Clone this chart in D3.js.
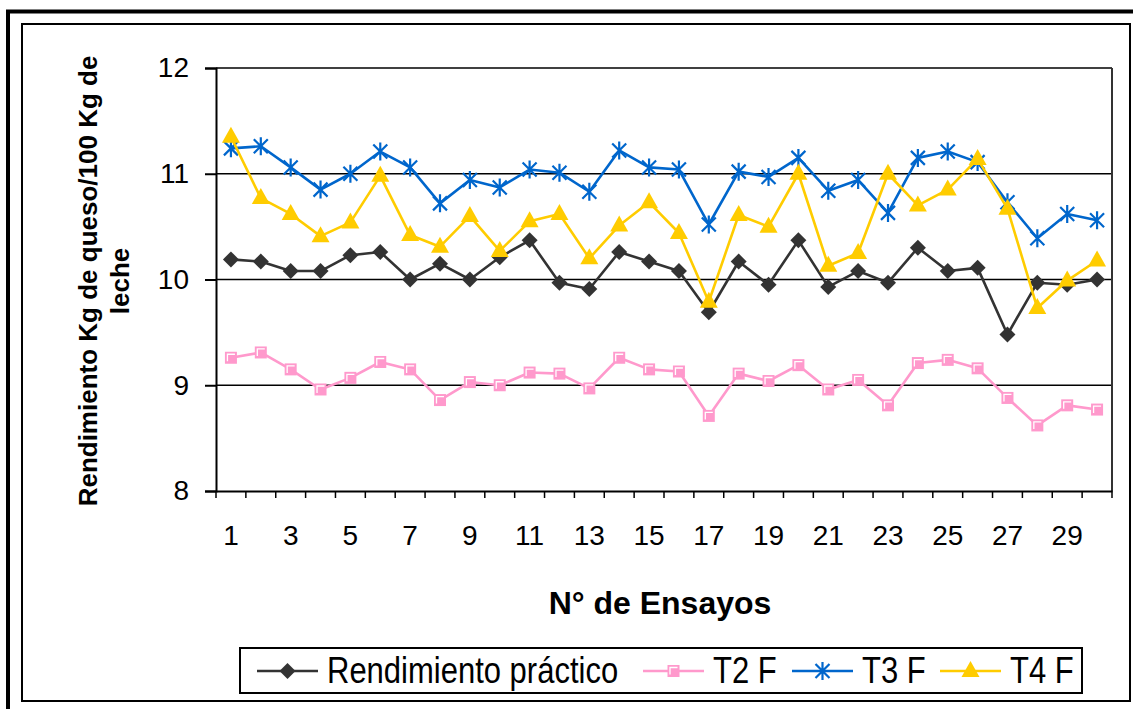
<!DOCTYPE html>
<html>
<head>
<meta charset="utf-8">
<script src="https://cdn.jsdelivr.net/npm/d3@7"></script>
<style>
  html, body { margin: 0; padding: 0; background: #fff; }
  svg { display: block; font-family: Arial, "Liberation Sans", sans-serif; }
</style>
</head>
<body>
<svg id="chart" width="1133" height="709"></svg>
<script>
// Trial numbers (categories) and yields per series
const ensayos = d3.range(1, 31);
const rendimientoPractico = [10.19, 10.17, 10.08, 10.08, 10.23, 10.26, 10.00, 10.15, 10.00, 10.21,
                             10.37, 9.97, 9.91, 10.26, 10.17, 10.08, 9.69, 10.17, 9.95, 10.37,
                             9.93, 10.08, 9.97, 10.30, 10.08, 10.11, 9.48, 9.97, 9.95, 10.00];
const t2F = [9.26, 9.31, 9.15, 8.96, 9.07, 9.22, 9.15, 8.86, 9.03, 9.00,
             9.12, 9.11, 8.97, 9.26, 9.15, 9.13, 8.71, 9.11, 9.04, 9.19,
             8.96, 9.05, 8.81, 9.21, 9.24, 9.16, 8.88, 8.62, 8.81, 8.77];
const t3F = [11.24, 11.26, 11.06, 10.85, 11.00, 11.21, 11.06, 10.72, 10.94, 10.87,
             11.04, 11.01, 10.83, 11.22, 11.06, 11.04, 10.52, 11.02, 10.97, 11.15,
             10.84, 10.94, 10.63, 11.15, 11.21, 11.11, 10.73, 10.39, 10.62, 10.56];
const t4F = [11.35, 10.77, 10.62, 10.41, 10.54, 10.98, 10.42, 10.31, 10.60, 10.27,
             10.55, 10.62, 10.20, 10.51, 10.73, 10.44, 9.79, 10.61, 10.50, 11.00,
             10.13, 10.25, 11.00, 10.70, 10.85, 11.14, 10.67, 9.73, 9.99, 10.18];
const yTicks = [8, 9, 10, 11, 12];
const xTickLabels = [1, 3, 5, 7, 9, 11, 13, 15, 17, 19, 21, 23, 25, 27, 29];

const seriesNames = ["Rendimiento práctico", "T2 F", "T3 F", "T4 F"];
const seriesColors = ["#333333", "#FF99CC", "#0066CC", "#FFCC00"];
const seriesValues = [rendimientoPractico, t2F, t3F, t4F];
const seriesMarkers = ["diamond", "square", "star", "triangle"];

const svg = d3.select("#chart");

// Double frame around the figure
svg.append("rect").attr("x", 8).attr("y", 11.5).attr("width", 1140).attr("height", 720)
  .attr("fill", "none").attr("stroke", "#000").attr("stroke-width", 4);
svg.append("rect").attr("x", 22).attr("y", 24).attr("width", 1108).attr("height", 677)
  .attr("fill", "none").attr("stroke", "#000").attr("stroke-width", 2);

const plot = { left: 216, right: 1112, top: 68, bottom: 491 };

const x = d3.scaleBand().domain(ensayos).range([plot.left, plot.right]);
const xc = d => x(d) + x.bandwidth() / 2;
const y = d3.scaleLinear().domain([8, 12]).range([plot.bottom, plot.top]);

// Gridlines
svg.append("g").selectAll("line").data(yTicks.filter(t => t > 8)).join("line")
  .attr("x1", plot.left).attr("x2", plot.right)
  .attr("y1", d => y(d)).attr("y2", d => y(d))
  .attr("stroke", "#000").attr("stroke-width", 1.5);

// Plot-area border (right side)
svg.append("line").attr("x1", plot.right).attr("x2", plot.right)
  .attr("y1", plot.top).attr("y2", plot.bottom)
  .attr("stroke", "#333").attr("stroke-width", 2);

// Y axis
const yAxis = d3.axisLeft(y).tickValues(yTicks).tickSize(11).tickPadding(16).tickFormat(d3.format("d"));
const gy = svg.append("g").attr("transform", `translate(${plot.left},0)`).call(yAxis);
gy.select(".domain").attr("stroke", "#000").attr("stroke-width", 2);
gy.selectAll(".tick line").attr("stroke", "#000").attr("stroke-width", 2);
gy.selectAll(".tick text").attr("font-size", 28).attr("fill", "#000")
  .attr("font-family", "Arial, 'Liberation Sans', sans-serif");

// X axis
const xAxis = d3.axisBottom(x).tickValues(xTickLabels).tickSize(0).tickPadding(34);
const gx = svg.append("g").attr("transform", `translate(0,${plot.bottom})`).call(xAxis);
gx.select(".domain").attr("stroke", "#000").attr("stroke-width", 2);
gx.selectAll(".tick text").attr("font-size", 28).attr("fill", "#000")
  .attr("font-family", "Arial, 'Liberation Sans', sans-serif");
// Tick marks between categories
svg.append("g").selectAll("line").data(ensayos.concat([31])).join("line")
  .attr("x1", d => d <= 30 ? x(d) : plot.right)
  .attr("x2", d => d <= 30 ? x(d) : plot.right)
  .attr("y1", plot.bottom).attr("y2", plot.bottom + 7)
  .attr("stroke", "#000").attr("stroke-width", 1.5);

// Axis titles
svg.append("text").attr("x", 660).attr("y", 614).attr("text-anchor", "middle")
  .attr("font-size", 32).attr("font-weight", "bold").text("N° de Ensayos");
const yTitle = svg.append("text").attr("transform", "rotate(-90)")
  .attr("text-anchor", "middle").attr("font-size", 26).attr("font-weight", "bold");
yTitle.append("tspan").attr("x", -281).attr("y", 97).text("Rendimiento Kg de queso/100 Kg de");
yTitle.append("tspan").attr("x", -281).attr("y", 129).text("leche");

// Marker drawing
function drawMarker(g, type, color) {
  if (type === "diamond") {
    g.append("path").attr("d", "M0,-8L8,0L0,8L-8,0Z").attr("fill", color);
  } else if (type === "square") {
    g.append("rect").attr("x", -6).attr("y", -6).attr("width", 12).attr("height", 12).attr("fill", color);
    g.append("path").attr("d", "M-3.5,3.5V-3.5H4").attr("fill", "none")
      .attr("stroke", "#fff").attr("stroke-width", 1.3);
  } else if (type === "star") {
    g.append("path").attr("d", "M0,-9V9M-7,-7L7,7M-7,7L7,-7").attr("fill", "none")
      .attr("stroke", color).attr("stroke-width", 2.2);
  } else if (type === "triangle") {
    g.append("path").attr("d", "M0,-10L9,6L-9,6Z").attr("fill", color);
  }
}

// Series lines and markers
const line = d3.line().x((d, i) => xc(ensayos[i])).y(d => y(d));
seriesValues.forEach((vals, k) => {
  const g = svg.append("g");
  g.append("path").datum(vals).attr("d", line).attr("fill", "none")
    .attr("stroke", seriesColors[k]).attr("stroke-width", 2.6).attr("stroke-linejoin", "round");
  g.selectAll("g.m").data(vals).join("g").attr("class", "m")
    .attr("transform", (d, i) => `translate(${xc(ensayos[i])},${y(d)})`)
    .each(function () { drawMarker(d3.select(this), seriesMarkers[k], seriesColors[k]); });
});

// Legend
svg.append("rect").attr("x", 240).attr("y", 648).attr("width", 842).attr("height", 45)
  .attr("fill", "#fff").attr("stroke", "#000").attr("stroke-width", 2);
const legendX = [257, 643, 792, 940];
seriesNames.forEach((name, k) => {
  const g = svg.append("g").attr("transform", `translate(${legendX[k]},671)`);
  g.append("line").attr("x1", 0).attr("x2", 61).attr("stroke", seriesColors[k]).attr("stroke-width", 2.6);
  const m = g.append("g").attr("transform", "translate(30.5,0)");
  drawMarker(m, seriesMarkers[k], seriesColors[k]);
  g.append("text").attr("transform", "translate(70,12) scale(1,1.2)")
    .attr("font-size", 31).attr("fill", "#000").text(name);
});
</script>
</body>
</html>
